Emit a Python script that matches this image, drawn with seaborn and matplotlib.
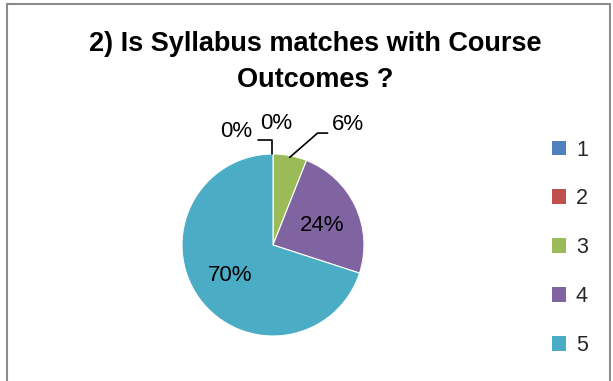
import numpy as np
import matplotlib
matplotlib.use("Agg")
import matplotlib.pyplot as plt
import seaborn as sns
from matplotlib.patches import Patch, Rectangle

categories = ["1", "2", "3", "4", "5"]
values = [0, 0, 6, 24, 70]
colors = ["#4F81BD", "#C0504D", "#9BBB59", "#8064A2", "#4BACC6"]
title = "2) Is Syllabus matches with Course\nOutcomes ?"

sns.set_theme(style="white")
plt.rcParams['font.family'] = ['Liberation Sans', 'DejaVu Sans']

W, H = 613, 381
fig = plt.figure(figsize=(W / 100, H / 100), dpi=100)
fig.patch.set_facecolor("white")

# chart border
fig.add_artist(Rectangle((7 / W, -0.05), (610 - 7) / W, (H - 4) / H + 0.05,
                         transform=fig.transFigure, fill=False,
                         edgecolor="#8c8c8c", linewidth=1.5))

ax = fig.add_axes([(273 - 91) / W, (381 - 336) / H, 182 / W, 182 / H])
wedges, _ = ax.pie(values, colors=colors, startangle=90, counterclock=False,
                   radius=1.0, wedgeprops=dict(linewidth=0.8, edgecolor="white"))
ax.set_xlim(-1, 1)
ax.set_ylim(-1, 1)
ax.set_aspect("equal")
ax.axis("off")

# label offsets (in radius units) for each slice, Excel-like placement
label_pos = [(-0.41, 1.25), (0.04, 1.33), (0.82, 1.32), (0.54, 0.21), (-0.47, -0.34)]
total = sum(values)
for w, v, (lx, ly) in zip(wedges, values, label_pos):
    pct = f"{round(100 * v / total)}%"
    ax.text(lx, ly, pct, ha="center", va="center", fontsize=16, color="#000000",
            clip_on=False)

# leader lines
ax.plot([-0.165, -0.015, -0.015], [1.15, 1.15, 1.0], color="black", lw=1.2,
        clip_on=False)
a3 = np.deg2rad((wedges[2].theta1 + wedges[2].theta2) / 2)
ax.plot([np.cos(a3) * 0.98, 0.49, 0.6], [np.sin(a3) * 0.98, 1.23, 1.23],
        color="black", lw=1.2, clip_on=False)

fig.text(315 / W, 1 - 62 / H, title, ha="center", va="center", fontsize=19.5,
         fontweight="bold", linespacing=1.5, color="#000000")

handles = [Patch(facecolor=c, edgecolor="none", label=l) for c, l in zip(colors, categories)]
fig.legend(handles=handles, loc="upper left", bbox_to_anchor=(543 / W, 1 - 131 / H),
           frameon=False, fontsize=15.5, labelspacing=1.29, handlelength=0.68,
           handleheight=0.68, handletextpad=0.45, borderaxespad=0)

fig.savefig("out.png", dpi=100, facecolor="white")
